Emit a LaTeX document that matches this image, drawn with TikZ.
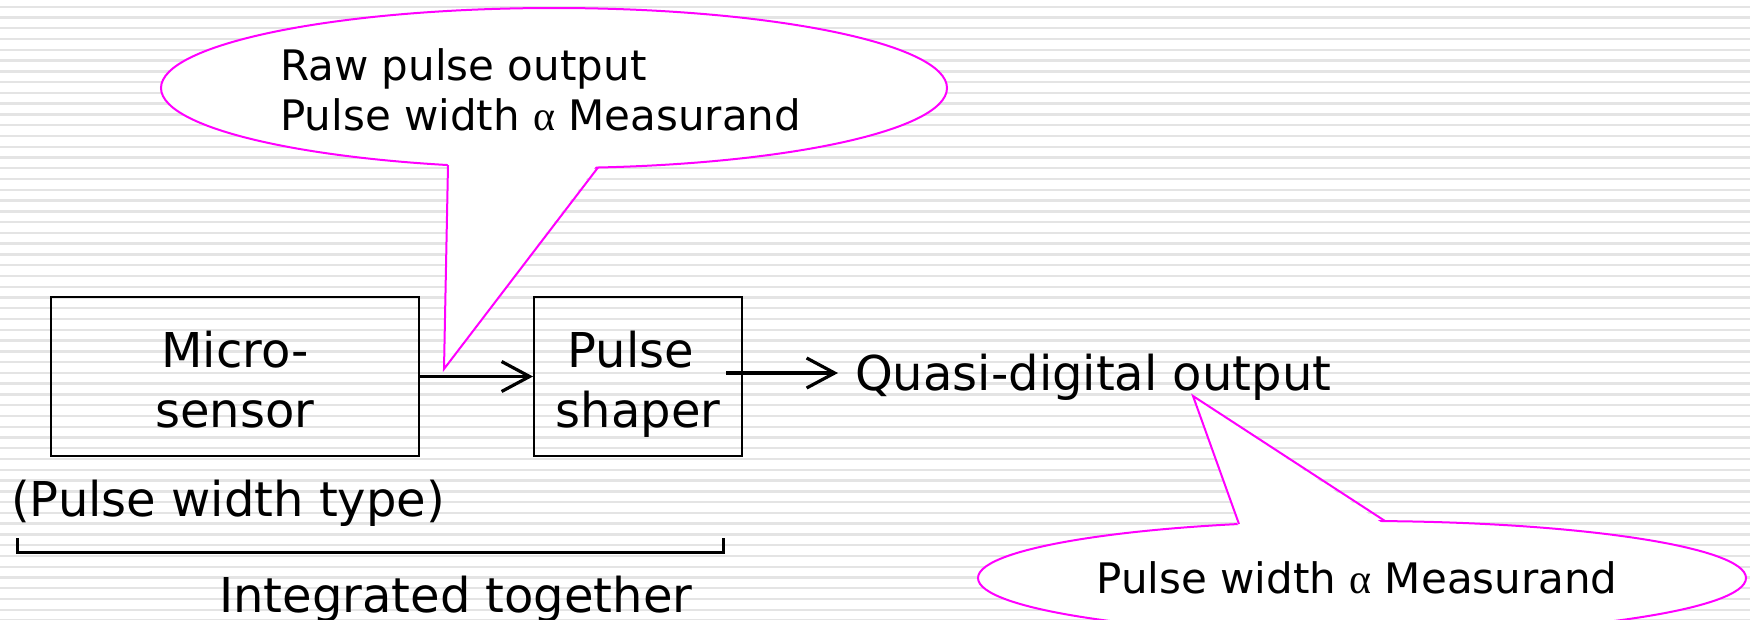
\documentclass[tikz,border=0pt]{standalone}
\usepackage{fontspec}
\setmainfont{DejaVu Sans}
\newfontfamily\greekfont{Liberation Serif}
\usetikzlibrary{arrows.meta,shapes.geometric}
\definecolor{bubbleline}{RGB}{255,0,255}
\definecolor{stripegray}{RGB}{228,228,228}
\newcommand{\propsym}{{\greekfont α}}
\tikzset{
  stripe/.style={draw=stripegray, line width=2.4pt},
  blockbox/.style={draw=black, line width=2pt, rectangle, inner sep=0pt},
  bigtext/.style={font=\fontsize{48}{60}\selectfont, inner sep=0pt},
  bubbletext/.style={font=\fontsize{42}{50}\selectfont, inner sep=0pt},
  flow/.style={line width=3.2pt, -{Straight Barb[length=28pt,width=30pt]}},
  bubble/.style={ellipse, draw=bubbleline, fill=white, line width=2pt, inner sep=0pt},
  pointer/.style={draw=bubbleline, line width=2pt, line join=miter},
  span/.style={line width=3pt},
}
\begin{document}
\begin{tikzpicture}[x=1pt,y=-1pt]
\useasboundingbox (0,0) rectangle (1750,619);
\clip (0,0) rectangle (1750,619);
\fill[white] (0,0) rectangle (1750,619);
% ruled background
\foreach \k in {0,...,57} {
  \pgfmathsetmacro\yy{6.7+10.77*\k}
  \draw[stripe] (0,\yy) -- (1750,\yy);
}

% processing blocks (multi-line labels sit on the baseline of their last line)
\node[blockbox, minimum width=368pt, minimum height=159pt] (ms) at (235,376.5) {};
\node[blockbox, minimum width=208pt, minimum height=159pt] (ps) at (638,376.5) {};
\node[bigtext, align=center, anchor=base] (mstext) at (235,427) {Micro-\\sensor};
\node[bigtext, align=center, anchor=base] (pstext) at (638,427) {Pulse\kern14pt\\shaper};

% signal flow
\draw[flow] (ms.east) -- (ps.west);
\coordinate (outstart) at (726,373);
\coordinate (outend) at (838,373);
\draw[flow] (outstart) -- (outend);

% bracket under the integrated parts
\coordinate (bl) at (17,538);
\coordinate (br) at (723,538);
\draw[span] (bl) -- ++(0,14) -| (br);

% upper callout
\node[bubble, minimum width=786pt, minimum height=160pt] (b1) at (554,88) {};
\coordinate (b1l) at (448,165);
\coordinate (b1r) at (598,167.5);
\coordinate (b1li) at (448,161);
\coordinate (b1ri) at (598,163.5);
\coordinate (b1tip) at (444,369);
\fill[white] (b1li) -- (b1tip) -- (b1ri) -- cycle;
\draw[pointer] (b1l) -- (b1tip) -- (b1r);
\node[bubbletext, align=left, anchor=base west] (b1text) at (280,130)
  {Raw pulse output\\Pulse width \propsym{} Measurand};

% lower callout
\node[bubble, minimum width=768pt, minimum height=114pt] (b2) at (1362,578) {};
\coordinate (b2l) at (1239,524);
\coordinate (b2r) at (1385,521);
\coordinate (b2li) at (1239,528);
\coordinate (b2ri) at (1385,525);
\coordinate (b2tip) at (1193,396);
\fill[white] (b2li) -- (b2tip) -- (b2ri) -- cycle;
\draw[pointer] (b2l) -- (b2tip) -- (b2r);
\node[bubbletext, anchor=base] (b2text) at (1357,593) {Pulse width \propsym{} Measurand};

% labels
\node[bigtext, anchor=base west] (qout) at (855,390) {Quasi-digital output};
\node[bigtext, anchor=base west] (pwt) at (11,516) {(Pulse width type)};
\node[bigtext, anchor=base west] (intg) at (219,612) {Integrated together};
\end{tikzpicture}
\end{document}
